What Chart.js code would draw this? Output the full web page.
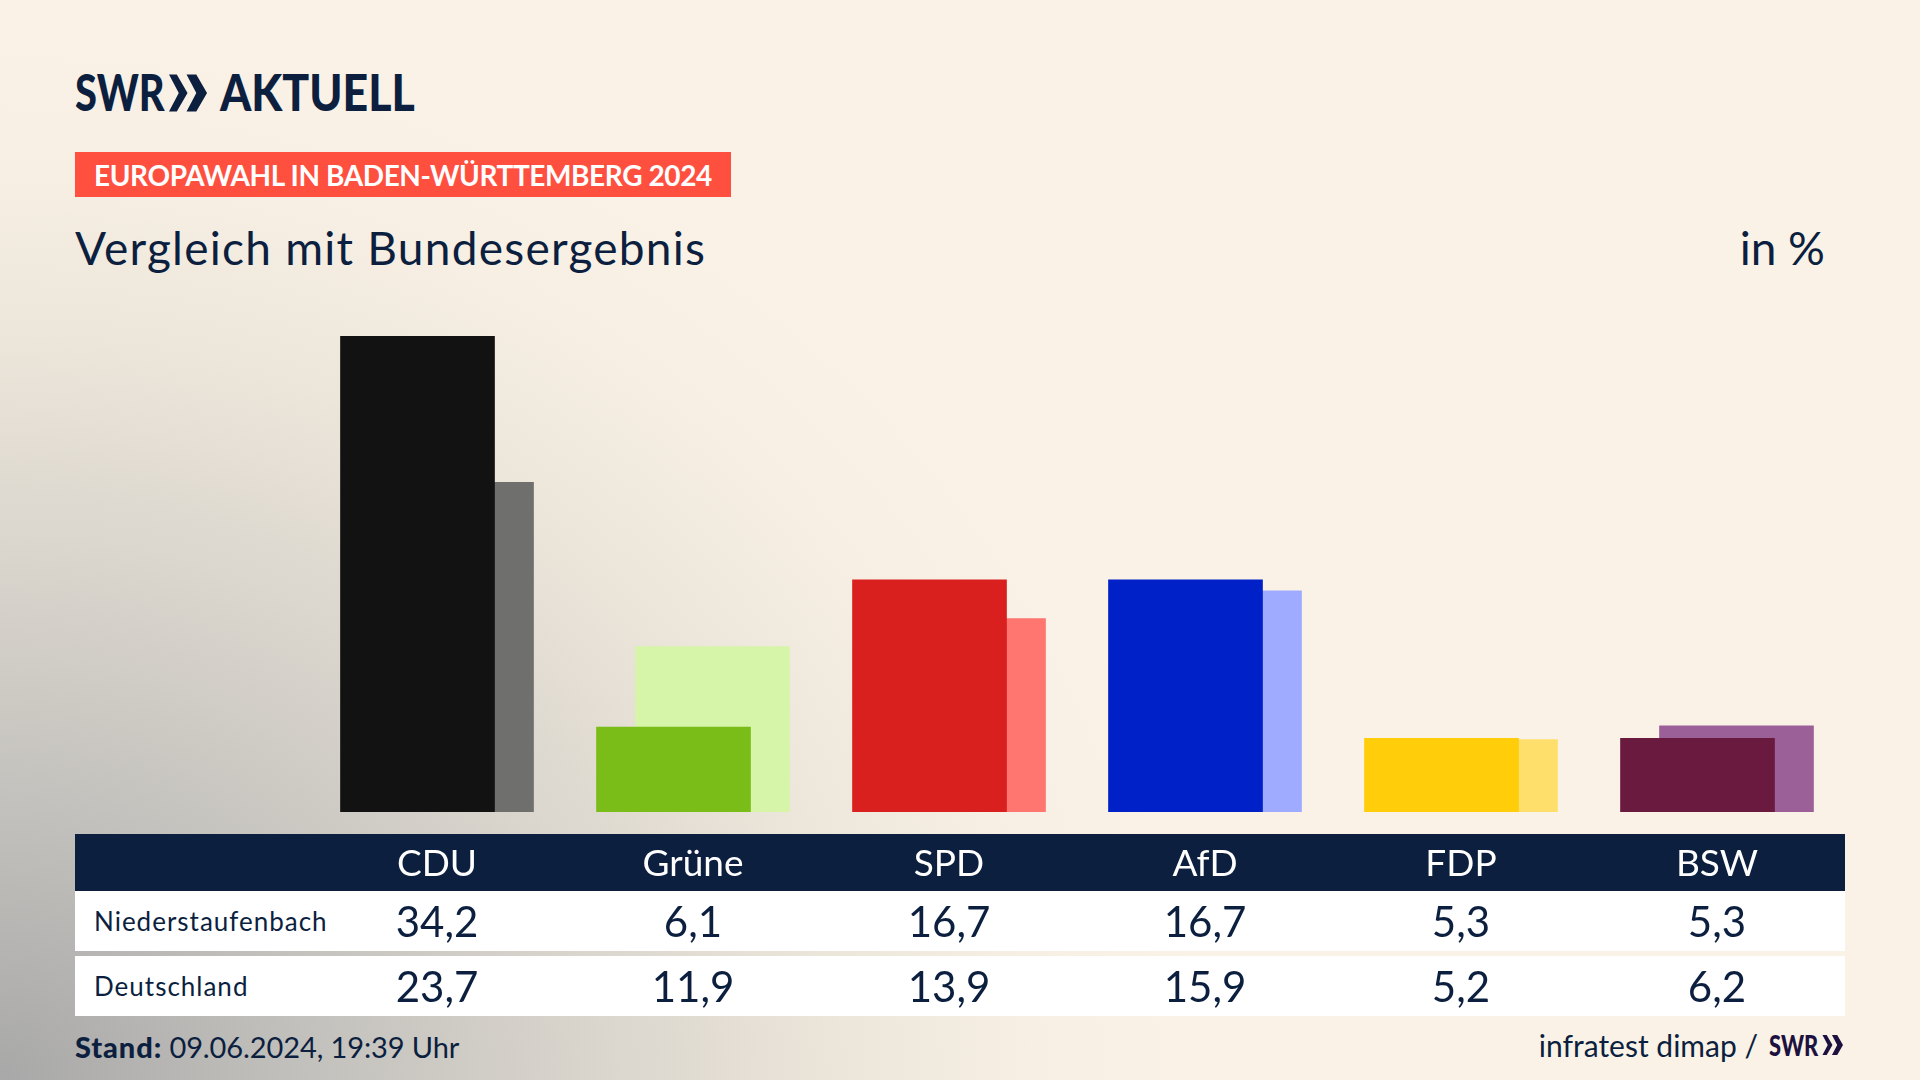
<!DOCTYPE html>
<html lang="de"><head><meta charset="utf-8">
<script src="https://cdn.jsdelivr.net/npm/chart.js@4"></script>
<style>
html,body{margin:0;padding:0;width:1920px;height:1080px;overflow:hidden;background:#faf2e7}
body{position:relative;font-family:Lato,"Noto Sans",sans-serif;color:#0c1f3f;
background:radial-gradient(ellipse 1200px 1060px at 0px 1080px,#a8a8a8 0%,#c2c0bc 25%,#d8d4cc 48%,#ece5da 70%,#f7efe4 86%,#faf2e7 100%),#faf2e7}
div,span,svg{position:absolute;white-space:nowrap}
canvas{position:absolute;left:0;top:0;z-index:2}
.lg{top:64px;font-weight:900;font-size:51px;line-height:56px;transform-origin:0 50%}
#band{left:75px;top:152px;width:656px;height:45px;background:#ff4f3f}
#bandT{left:94px;top:152px;line-height:46px;font-size:28px;font-weight:700;color:#fff;letter-spacing:-.4px}
#sub{left:75px;top:221px;font-size:46px;line-height:54px;letter-spacing:1.25px}
#unit{right:95px;top:221px;font-size:46px;line-height:54px}
#head{left:75px;top:834px;width:1770px;height:57px;background:#0c1f3f}
.row{left:75px;width:1770px;height:60px;background:#fff}
.rl{left:94px;font-size:26px;line-height:60px;letter-spacing:1px}
.rv{font-size:42px;line-height:60px;transform:translateX(-50%);z-index:3}
#stand{left:75px;top:1029px;font-size:29px;line-height:36px;letter-spacing:-.1px}
#stand b{font-weight:900;letter-spacing:.9px}
#src{right:162px;top:1027px;font-size:30px;line-height:36px}
#swr2{left:1769px;top:1027px;font-size:28px;line-height:36px;font-weight:900;color:#1d1140;transform:scaleX(.78);transform-origin:0 50%}
</style></head><body>
<div class="lg" style="left:75px;transform:scaleX(.78)">SWR</div>
<svg style="left:169px;top:74px" width="39" height="38" viewBox="0 0 40 38"><path fill="#0c1f3f" d="M0 0h8l11 19-11 19H0l10-19zM18 0h10l11 19-11 19H18l10-19z"/></svg>
<div class="lg" style="left:220px;transform:scaleX(.875)">AKTUELL</div>
<div id="band"></div><div id="bandT">EUROPAWAHL IN BADEN-WÜRTTEMBERG 2024</div>
<div id="sub">Vergleich mit Bundesergebnis</div><div id="unit">in %</div>
<div id="head"></div>
<div class="row" style="top:891px"></div><div class="row" style="top:956px"></div>
<div class="rl" id="r0" style="top:891px"></div><div class="rl" id="r1" style="top:956px"></div>
<div id="stand"><b>Stand:</b> 09.06.2024, 19:39 Uhr</div>
<div id="src">infratest dimap /</div>
<div id="swr2">SWR</div>
<svg style="left:1822px;top:1035px" width="22" height="20" viewBox="0 0 40 38"><path fill="#1d1140" d="M0 0h8l11 19-11 19H0l10-19zM18 0h10l11 19-11 19H18l10-19z"/></svg>
<canvas id="c" width="1920" height="1080"></canvas>
<script>
const categories=["CDU","Grüne","SPD","AfD","FDP","BSW"];
const rowLabels=["Niederstaufenbach","Deutschland"];
const regionValues=[34.2,6.1,16.7,16.7,5.3,5.3];
const nationValues=[23.7,11.9,13.9,15.9,5.2,6.2];
const regionColors=["#121212","#7abd18","#da1f1f","#0021c7","#ffcd0a","#6a1a3e"];
const nationColors=["#6f6f6d","#d7f5a8","#ff7570","#9eabff","#ffdf6b","#9a6097"];
const fmt=v=>v.toFixed(1).replace(".",",");
const toPoints=a=>a.map((y,x)=>({x,y}));
const shift=19.5/256;
const chart=new Chart(document.getElementById("c"),{
  type:"bar",
  data:{labels:categories,datasets:[
    {label:rowLabels[0],data:toPoints(regionValues),backgroundColor:regionColors,xAxisID:"xFront",grouped:false,barThickness:154},
    {label:rowLabels[1],data:toPoints(nationValues),backgroundColor:nationColors,xAxisID:"xBack",grouped:false,barThickness:154}
  ]},
  options:{
    responsive:false,animation:false,devicePixelRatio:1,
    layout:{padding:{left:309,right:75,top:255,bottom:0}},
    plugins:{legend:{display:false},tooltip:{enabled:false}},
    scales:{
      x:{type:"category",offset:true,grid:{display:false},border:{display:false},
         afterFit:s=>{s.height=268},
         ticks:{color:"#fff",font:{family:"Lato",size:37},padding:22,autoSkip:false,maxRotation:0}},
      xFront:{type:"linear",display:false,offset:false,min:-0.5+shift,max:5.5+shift},
      xBack:{type:"linear",display:false,offset:false,min:-0.5-shift,max:5.5-shift},
      y:{display:false,min:0,max:40.05}
    }
  }
});
const xs=chart.scales.x;
[regionValues,nationValues].forEach((vals,r)=>{
  document.getElementById("r"+r).textContent=rowLabels[r];
  vals.forEach((v,i)=>{
    const d=document.createElement("div");d.className="rv";d.textContent=fmt(v);
    d.style.left=xs.getPixelForTick(i)+"px";d.style.top=(r?956:891)+"px";
    document.body.appendChild(d);
  });
});
</script>
</body></html>
